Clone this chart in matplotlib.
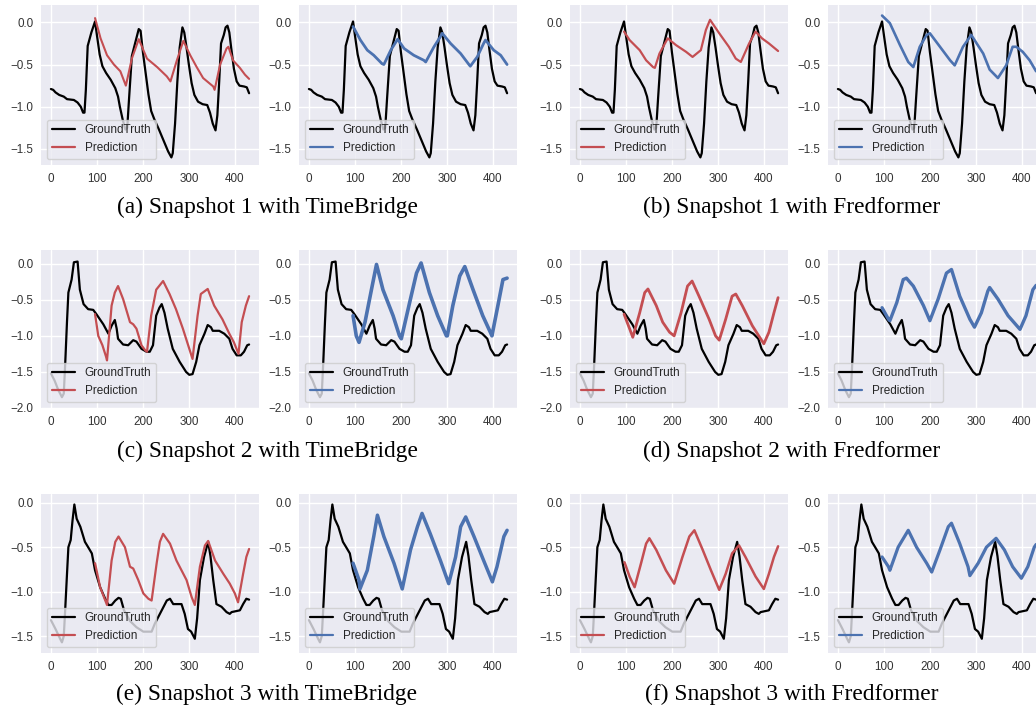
import matplotlib
matplotlib.use("Agg")
import matplotlib.pyplot as plt
import seaborn as sns

sns.set_style("darkgrid")
plt.rcParams['font.family'] = ['Liberation Sans', 'DejaVu Sans']

# ---------------- data ----------------
captions = ["(a) Snapshot 1 with TimeBridge", "(b) Snapshot 1 with Fredformer",
            "(c) Snapshot 2 with TimeBridge", "(d) Snapshot 2 with Fredformer",
            "(e) Snapshot 3 with TimeBridge", "(f) Snapshot 3 with Fredformer"]
legend_labels = ["GroundTruth", "Prediction"]
x_ticks = [0, 100, 200, 300, 400]

# Snapshot 1 ground truth
gt1_x = [0, 5, 10, 18, 28, 35, 50, 58, 65, 70, 73, 76, 80, 88, 96, 100, 106, 112, 120, 130, 140, 146,
         150, 156, 162, 166, 170, 176, 183, 191, 195, 200, 206, 212, 218, 225, 235, 245, 255, 262, 265,
         270, 275, 280, 286, 290, 295, 300, 306, 312, 320, 330, 340, 346, 352, 358, 362, 366, 370, 376,
         380, 384, 388, 392, 398, 404, 410, 420, 426, 431]
gt1_y = [-0.79, -0.80, -0.83, -0.86, -0.88, -0.91, -0.92, -0.95, -1.00, -1.07, -1.07, -0.80, -0.28, -0.12,
         0.01, -0.15, -0.38, -0.52, -0.60, -0.68, -0.78, -0.88, -1.00, -1.15, -1.27, -1.25, -0.90, -0.40,
         -0.25, -0.08, -0.10, -0.35, -0.60, -0.85, -1.05, -1.15, -1.27, -1.40, -1.53, -1.60, -1.55, -1.20,
         -0.70, -0.30, -0.06, -0.12, -0.30, -0.50, -0.72, -0.86, -0.94, -0.97, -0.98, -1.07, -1.20, -1.28,
         -1.10, -0.70, -0.25, -0.15, -0.06, -0.04, -0.12, -0.30, -0.55, -0.70, -0.75, -0.76, -0.77, -0.84]

# Snapshot 1 predictions
p1a_x = [96, 108, 122, 137, 151, 163, 176, 191, 209, 231, 252, 260, 274, 288, 303, 317, 331, 353, 356,
         368, 382, 386, 396, 411, 422, 431]
p1a_y = [0.05, -0.19, -0.39, -0.50, -0.58, -0.75, -0.43, -0.20, -0.43, -0.53, -0.64, -0.70, -0.45, -0.22,
         -0.39, -0.53, -0.66, -0.76, -0.80, -0.50, -0.31, -0.29, -0.45, -0.54, -0.62, -0.67]
p1b_x = [96, 112, 127, 141, 159, 163, 178, 193, 207, 228, 250, 254, 272, 286, 290, 308, 330, 348, 351,
         366, 380, 384, 402, 417, 431]
p1b_y = [-0.05, -0.21, -0.33, -0.39, -0.49, -0.50, -0.33, -0.20, -0.31, -0.39, -0.45, -0.47, -0.29, -0.17,
         -0.13, -0.25, -0.37, -0.50, -0.52, -0.41, -0.25, -0.21, -0.33, -0.39, -0.50]
p1c_x = [96, 108, 130, 144, 159, 163, 173, 187, 191, 209, 231, 245, 263, 274, 283, 303, 324, 339, 350,
         368, 382, 396, 411, 431]
p1c_y = [-0.11, -0.21, -0.33, -0.45, -0.53, -0.54, -0.37, -0.23, -0.19, -0.27, -0.35, -0.41, -0.33, -0.09,
         0.03, -0.13, -0.29, -0.43, -0.47, -0.25, -0.11, -0.19, -0.25, -0.34]
p1d_x = [96, 113, 135, 153, 164, 178, 193, 200, 222, 244, 254, 272, 290, 316, 330, 348, 366, 380, 388,
         402, 417, 431]
p1d_y = [0.08, -0.01, -0.27, -0.47, -0.53, -0.29, -0.15, -0.13, -0.29, -0.45, -0.51, -0.29, -0.15, -0.37,
         -0.56, -0.66, -0.51, -0.29, -0.29, -0.35, -0.45, -0.58]

# Snapshot 2 ground truth
gt2_x = [0, 8, 16, 24, 28, 31, 35, 38, 45, 50, 58, 63, 71, 81, 92, 99, 114, 125, 132, 139, 143, 146, 157,
         168, 179, 186, 197, 208, 215, 222, 229, 236, 241, 247, 254, 265, 280, 294, 301, 308, 316, 323,
         334, 341, 348, 352, 366, 377, 388, 395, 404, 413, 420, 427, 431]
gt2_y = [-1.52, -1.62, -1.75, -1.85, -1.80, -1.40, -0.80, -0.40, -0.22, 0.02, 0.03, -0.36, -0.56, -0.63,
         -0.64, -0.70, -0.84, -0.97, -0.86, -0.78, -0.90, -1.04, -1.12, -1.13, -1.06, -1.08, -1.18, -1.22,
         -1.22, -1.13, -0.72, -0.61, -0.56, -0.68, -0.90, -1.18, -1.36, -1.50, -1.54, -1.53, -1.36, -1.13,
         -0.97, -0.85, -0.88, -0.93, -0.93, -0.97, -1.04, -1.18, -1.27, -1.27, -1.22, -1.13, -1.12]

# Snapshot 2 predictions
p2a_x = [96, 103, 112, 120, 122, 132, 139, 146, 157, 172, 179, 186, 197, 205, 209, 218, 229, 244, 258,
         272, 287, 301, 308, 319, 326, 341, 355, 373, 388, 398, 408, 415, 424, 431]
p2a_y = [-0.70, -1.00, -1.13, -1.29, -1.34, -0.58, -0.40, -0.31, -0.49, -0.81, -0.84, -0.90, -1.13, -1.20,
         -1.22, -0.72, -0.36, -0.24, -0.42, -0.63, -0.90, -1.18, -1.32, -0.72, -0.42, -0.35, -0.58, -0.77,
         -0.97, -1.09, -1.25, -0.81, -0.58, -0.45]
p2b_x = [96, 103, 109, 122, 136, 147, 161, 183, 197, 201, 219, 234, 244, 262, 280, 299, 301, 313, 328,
         339, 357, 378, 396, 398, 411, 422, 431]
p2b_y = [-0.72, -1.00, -1.09, -0.81, -0.36, -0.01, -0.36, -0.72, -1.00, -1.04, -0.54, -0.13, 0.01, -0.40,
         -0.72, -1.00, -1.00, -0.58, -0.17, -0.04, -0.36, -0.72, -0.97, -1.00, -0.58, -0.22, -0.20]
p2c_x = [96, 108, 115, 130, 141, 148, 166, 180, 195, 205, 220, 234, 244, 259, 281, 295, 303, 317, 331,
         339, 353, 375, 389, 400, 411, 422, 431]
p2c_y = [-0.70, -0.90, -1.02, -0.68, -0.40, -0.35, -0.58, -0.81, -0.95, -1.00, -0.68, -0.31, -0.24, -0.45,
         -0.77, -1.00, -1.06, -0.77, -0.45, -0.42, -0.58, -0.86, -1.00, -1.11, -0.95, -0.68, -0.47]
p2d_x = [96, 110, 113, 128, 142, 149, 164, 186, 200, 218, 236, 247, 265, 287, 297, 312, 326, 330, 348,
         370, 396, 409, 424, 431]
p2d_y = [-0.61, -0.77, -0.79, -0.54, -0.22, -0.20, -0.31, -0.58, -0.79, -0.49, -0.13, -0.08, -0.45, -0.77,
         -0.88, -0.68, -0.38, -0.33, -0.49, -0.72, -0.91, -0.72, -0.36, -0.30]

# Snapshot 3 ground truth
gt3_x = [0, 10, 20, 24, 28, 31, 35, 38, 43, 47, 51, 56, 64, 74, 81, 89, 96, 107, 118, 125, 132, 140, 147,
         152, 159, 172, 186, 201, 219, 226, 237, 252, 259, 266, 284, 291, 298, 305, 313, 318, 324, 333,
         342, 347, 353, 360, 371, 382, 389, 393, 411, 418, 425, 431]
gt3_y = [-1.32, -1.42, -1.53, -1.57, -1.50, -1.21, -0.80, -0.50, -0.42, -0.20, -0.02, -0.18, -0.27, -0.44,
         -0.50, -0.57, -0.76, -0.95, -1.08, -1.15, -1.15, -1.10, -1.07, -1.08, -1.21, -1.33, -1.40, -1.45,
         -1.45, -1.36, -1.25, -1.10, -1.08, -1.14, -1.14, -1.25, -1.42, -1.45, -1.53, -1.30, -0.87, -0.61,
         -0.44, -0.60, -0.87, -1.14, -1.17, -1.23, -1.25, -1.23, -1.21, -1.14, -1.08, -1.09]

# Snapshot 3 predictions
p3a_x = [96, 107, 122, 132, 140, 147, 161, 172, 179, 190, 201, 212, 219, 230, 237, 244, 259, 273, 295,
         306, 313, 324, 335, 342, 357, 375, 389, 400, 407, 418, 425, 431]
p3a_y = [-0.68, -0.95, -1.15, -0.65, -0.44, -0.38, -0.50, -0.72, -0.74, -0.87, -1.02, -1.08, -1.10, -0.68,
         -0.44, -0.35, -0.46, -0.65, -0.87, -1.06, -1.15, -0.72, -0.48, -0.43, -0.65, -0.80, -0.91, -1.02,
         -1.12, -0.80, -0.61, -0.52]
p3b_x = [96, 109, 111, 127, 141, 149, 163, 185, 203, 221, 236, 246, 264, 286, 304, 319, 330, 341, 359,
         380, 399, 409, 424, 431]
p3b_y = [-0.68, -0.87, -0.97, -0.76, -0.38, -0.14, -0.38, -0.68, -0.97, -0.53, -0.27, -0.12, -0.35, -0.65,
         -0.91, -0.61, -0.27, -0.16, -0.38, -0.65, -0.89, -0.72, -0.38, -0.31]
p3c_x = [97, 108, 119, 133, 144, 151, 166, 187, 205, 223, 238, 249, 267, 285, 303, 317, 331, 346, 360,
         382, 400, 411, 422, 431]
p3c_y = [-0.67, -0.83, -0.95, -0.68, -0.46, -0.40, -0.53, -0.76, -0.91, -0.61, -0.38, -0.31, -0.53, -0.76,
         -0.98, -0.80, -0.57, -0.48, -0.61, -0.83, -0.97, -0.80, -0.61, -0.49]
p3d_x = [96, 110, 113, 131, 153, 171, 193, 204, 222, 240, 247, 265, 283, 287, 305, 323, 344, 362, 380,
         399, 413, 427, 431]
p3d_y = [-0.61, -0.72, -0.76, -0.50, -0.31, -0.50, -0.68, -0.78, -0.53, -0.27, -0.23, -0.46, -0.72, -0.82,
         -0.68, -0.50, -0.40, -0.53, -0.72, -0.85, -0.72, -0.50, -0.47]

# ---------------- layout ----------------
W, H = 1036, 709
fig = plt.figure(figsize=(W / 100, H / 100), dpi=100)

cols = [(41, 259), (299, 517), (570, 788), (828, 1046)]
rows = [(5, 165), (250, 408), (494, 653)]
row_ylims = [(-1.69, 0.205), (-2.0, 0.19), (-1.69, 0.098)]
caption_y = [207, 451, 694]
caption_x = [267, 792]

red = "#C44E52"
blue = "#4C72B0"
pred_colors = [red, blue, red, blue]
# noisy predictions appear as a thicker band
pred_lw = [[1.5, 2.0, 1.6, 1.9],
           [1.6, 2.6, 2.0, 2.4],
           [1.6, 2.5, 1.8, 2.3]]

snapshots = [
    (gt1_x, gt1_y, [(p1a_x, p1a_y), (p1b_x, p1b_y), (p1c_x, p1c_y), (p1d_x, p1d_y)]),
    (gt2_x, gt2_y, [(p2a_x, p2a_y), (p2b_x, p2b_y), (p2c_x, p2c_y), (p2d_x, p2d_y)]),
    (gt3_x, gt3_y, [(p3a_x, p3a_y), (p3b_x, p3b_y), (p3c_x, p3c_y), (p3d_x, p3d_y)]),
]

for r, (gx, gy, preds) in enumerate(snapshots):
    top, bot = rows[r]
    for c in range(4):
        left, right = cols[c]
        ax = fig.add_axes([left / W, 1 - bot / H, (right - left) / W, (bot - top) / H])
        ax.set_facecolor("#EAEAF2")
        ax.plot(gx, gy, color="black", lw=1.6, label=legend_labels[0])
        px, py = preds[c]
        ax.plot(px, py, color=pred_colors[c], lw=pred_lw[r][c], label=legend_labels[1])
        ax.set_xlim(-21.55, 452.55)
        ax.set_ylim(*row_ylims[r])
        ax.set_xticks(x_ticks)
        ax.grid(True, color="white", lw=1.0)
        for s in ax.spines.values():
            s.set_visible(False)
        ax.tick_params(axis="both", length=0, pad=5.5, labelsize=8.4, colors="#333333")
        leg = ax.legend(loc="lower left", fontsize=8.5, frameon=True, framealpha=0.8,
                        facecolor="#EAEAF2", edgecolor="#CCCCCC")
        for line in leg.get_lines():
            line.set_linewidth(1.6)

for r in range(3):
    for k in range(2):
        fig.text(caption_x[k] / W, 1 - caption_y[r] / H, captions[2 * r + k],
                 ha="center", va="center", fontsize=16.8, family="Liberation Serif", color="black")

fig.savefig("out.png", dpi=100)
